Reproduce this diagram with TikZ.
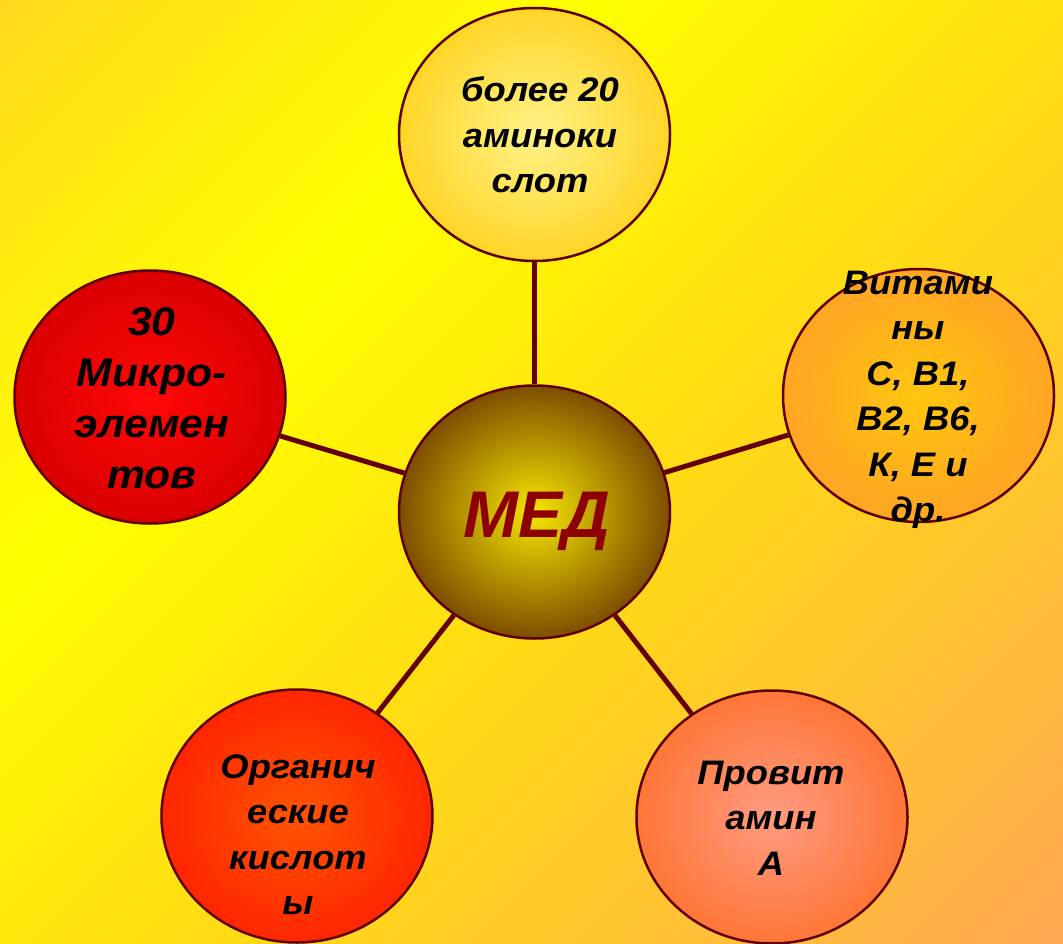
\documentclass[tikz,border=0pt]{standalone}
\usepackage{fontspec}
\newfontfamily\lbl[FakeStretch=1.07]{Liberation Sans}
\newfontfamily\lblplain{Liberation Sans}
\usetikzlibrary{shapes.geometric}
\definecolor{bgA}{RGB}{255,218,28}
\definecolor{bgB}{RGB}{255,255,0}
\definecolor{bgC}{RGB}{255,232,12}
\definecolor{bgD}{RGB}{255,215,25}
\definecolor{bgE}{RGB}{255,168,82}
\definecolor{edgec}{RGB}{95,0,0}
\definecolor{linkc}{RGB}{100,0,0}
\definecolor{medtext}{RGB}{140,0,0}
\newcommand\gradband[5]{%
  \pgfmathsetmacro\gbstep{(#2-#1)/#3}%
  \foreach \i in {1,...,#3}{%
    \pgfmathsetmacro\gbs{#1+(\i-1)*\gbstep}%
    \pgfmathsetmacro\gbe{\gbs+\gbstep+2}%
    \pgfmathsetmacro\gbp{100-100*(\i-0.5)/#3}%
    \fill[fill={#4!\gbp!#5}] (\gbs,0) -- (\gbe,0) -- (0,\gbe) -- (0,\gbs) -- cycle;
  }%
}
\begin{document}
\begin{tikzpicture}[x=1pt,y=-1pt,
  bubble/.style={ellipse, draw=edgec, line width=2.5pt, minimum width=271pt, minimum height=253pt, inner sep=0pt},
  link/.style={draw=linkc, line width=5pt},
  txt/.style={font={\lbl\bfseries\itshape\fontsize{34}{45.5}\selectfont}, align=center, text=black, inner sep=0pt},
  bigtxt/.style={font={\lbl\bfseries\itshape\fontsize{40}{51}\selectfont}, align=center, text=black, inner sep=0pt}]
\useasboundingbox (0,0) rectangle (1063,944);
\begin{scope}
  \clip (0,0) rectangle (1063,944);
  \gradband{0}{600}{40}{bgA}{bgB}
  \gradband{600}{930}{22}{bgB}{bgC}
  \gradband{930}{1230}{20}{bgC}{bgD}
  \gradband{1230}{2010}{52}{bgD}{bgE}
\end{scope}

\node[bubble, inner color={rgb,255:red,255;green,242;blue,135}, outer color={rgb,255:red,255;green,214;blue,40}] (amino) at (534.5,134.5) {};
\node[bubble, inner color={rgb,255:red,245;green,230;blue,0}, outer color={rgb,255:red,125;green,78;blue,0}] (med) at (534.5,512) {};
\node[bubble, inner color={rgb,255:red,255;green,8;blue,8}, outer color={rgb,255:red,218;green,0;blue,0}] (micro) at (150,397) {};
\node[bubble, inner color={rgb,255:red,255;green,198;blue,15}, outer color={rgb,255:red,255;green,165;blue,35}] (vit) at (918.5,395.5) {};
\node[bubble, inner color={rgb,255:red,255;green,85;blue,0}, outer color={rgb,255:red,255;green,38;blue,0}] (org) at (297,816) {};
\node[bubble, inner color={rgb,255:red,255;green,155;blue,130}, outer color={rgb,255:red,255;green,118;blue,55}] (prov) at (772,817) {};

\draw[link] (amino) -- (med);
\draw[link] (micro) -- (med);
\draw[link] (vit) -- (med);
\draw[link] (org) -- (med);
\draw[link] (prov) -- (med);

\node[txt] (tamino) at (540,135) {более 20\\аминоки\\слот};
\node[bigtxt] (tmicro) at (152,398) {30\\Микро-\\элемен\\тов};
\node[txt] (tvit) at (918,400) {Витами\\ны\\С, В1,\\В2, В6,\\К, Е и\\др.};
\node[txt] (torg) at (298,835) {Органич\\еские\\кислот\\ы};
\node[txt] (tprov) at (771,818) {Провит\\амин\\А};
\node[font={\lblplain\bfseries\itshape\fontsize{66}{72}\selectfont}, text=medtext, inner sep=0pt, anchor=base] (tmed) at (537,537) {МЕД};
\end{tikzpicture}
\end{document}
